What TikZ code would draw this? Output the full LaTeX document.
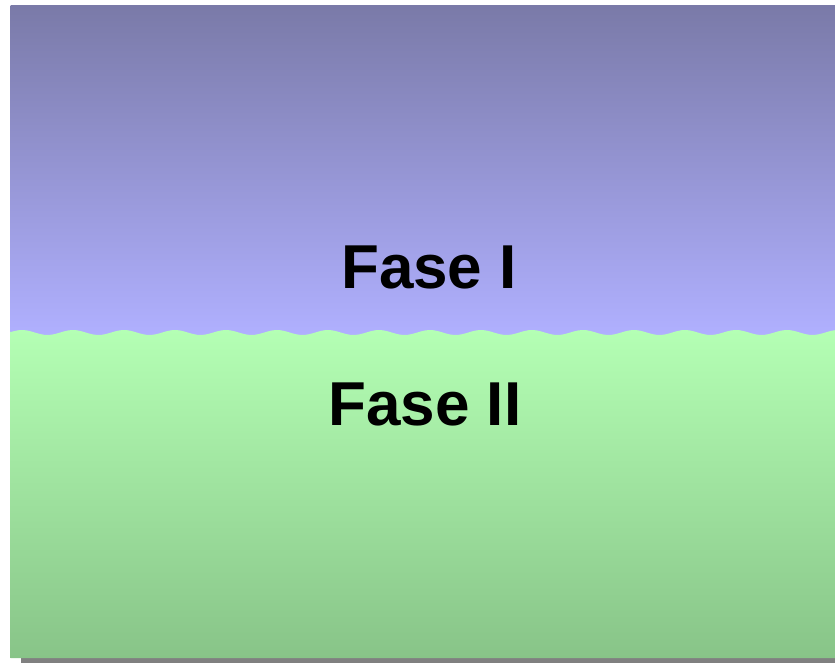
\documentclass[tikz,border=0pt]{standalone}
\usepackage{fontspec}
\setmainfont{Liberation Sans}
\definecolor{bluetop}{RGB}{122,122,168}
\definecolor{bluebot}{RGB}{176,176,255}
\definecolor{greentop}{RGB}{180,255,180}
\definecolor{greenbot}{RGB}{136,196,136}
\definecolor{shadowgray}{RGB}{128,128,128}
\tikzset{phaselabel/.style={font=\fontsize{62}{62}\selectfont\bfseries, text=black, inner sep=0pt, anchor=base}}
\begin{document}
\begin{tikzpicture}[x=1pt,y=-1pt]
\useasboundingbox (0,0) rectangle (835,664);
\fill[white] (0,0) rectangle (835,664);
% shadow
\fill[shadowgray] (21,658) rectangle (835,663);
% upper phase
\shade[top color=bluetop, bottom color=bluebot] (10.5,5) rectangle (835,336);
% lower phase with wavy interface
\shade[top color=greentop, bottom color=greenbot]
  (10.5,658) -- (10.5,331)
  -- plot[domain=10.5:835, samples=200, smooth] (\x,{332.5-2.5*cos(7.0588*(\x-22))})
  -- (835,658) -- cycle;
\node[phaselabel] (f1) at (429,288) {Fase I};
\node[phaselabel] (f2) at (425,425) {Fase II};
\end{tikzpicture}
\end{document}
